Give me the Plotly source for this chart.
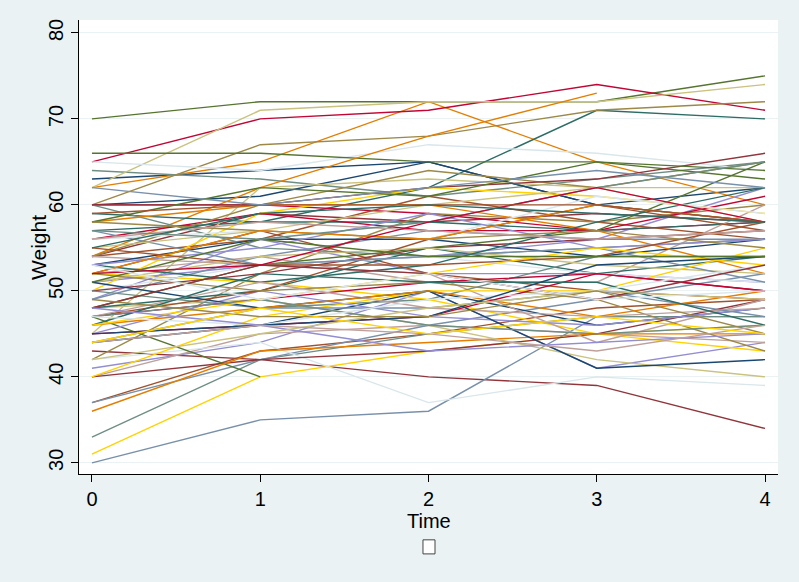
import plotly.graph_objects as go

# Time points
time = [0, 1, 2, 3, 4]

# Stata s2color palette (cycled over subjects)
palette = ["#1a476f", "#90353b", "#55752f", "#e37e00", "#6e8e84",
           "#c10534", "#938dd2", "#cac27e", "#a0522d", "#7890aa",
           "#2d6d66", "#9c8847", "#bfa19c", "#ffd200", "#d9e6eb"]

# Weight of each subject at times 0..4 (None = missing)
weights_a = [
    [63, 64, 65, 60, 62], [43, 42, 40, 39, 34], [70, 72, 72, 72, 75], [62, 65, 72, 65, 60],
    [64, 63, 61, 63, 65], [65, 70, 71, 74, 71], [41, 44, 50, 41, 44], [62, 71, 72, 72, 74],
    [37, 43, 45, 48, 49], [30, 35, 36, 47, 47], [57, 58, 62, 71, 70], [60, 67, 68, 71, 72],
    [40, 45, 46, 45, 44], [31, 40, 43, 45, 46], [65, 64, 67, 66, 64],
]
weights_b = [
    [60, 61, 65, 60, 58], [54, 59, 58, 59, 58], [66, 66, 65, 65, 63], [54, 62, 68, 73, None],
    [33, 42, 45, 47, 47], [60, 60, 59, 57, 58], [51, 53, 54, 56, 62], [45, 62, 63, 62, 62],
    [54, 56, 61, 58, 56], [37, 42, 46, 49, 52], [59, 58, 58, 57, 58], [42, 52, 59, 58, 60],
    [52, 54, 51, 51, 60], [52, 51, 49, 45, 43], [42, 44, 37, 40, 39],
]
weights_c = [
    [44, 46, 50, 46, 48], [40, 42, 43, 45, 49], [47, 40, None, None, None], [36, 43, 44, 45, 45],
    [60, 55, 54, 55, 56], [56, 59, 57, 57, 61], [49, 56, 52, 52, 51], [48, 49, 46, 42, 40],
    [52, 57, 52, 50, 49], [49, 54, 57, 56, 56], [48, 50, 55, 52, 54], [54, 60, 64, 62, 65],
    [54, 53, 52, 44, 49], [50, 59, 62, 61, 59], [50, 53, 54, 52, 51],
]
weights_d = [
    [53, 56, 56, 54, 56], [50, 52, 55, 56, 57], [48, 53, 55, 57, 65], [58, 60, 60, 57, 52],
    [50, 48, 49, 54, 54], [47, 49, 51, 52, 50], [45, 50, 47, 46, 48], [51, 54, 55, 53, 52],
    [47, 50, 56, 60, 57], [57, 53, 54, 55, 51], [53, 51, 53, 58, 62], [52, 50, 51, 49, 43],
    [47, 51, 48, 47, 48], [40, 47, 50, 50, 55], [56, 57, 56, 61, 59],
]
weights_e = [
    [51, 48, 50, 41, 42], [60, 60, 62, 63, 66], [58, 62, 61, 65, 64], [46, 48, 50, 47, 50],
    [47, 49, 46, 45, 46], [45, 46, 47, 52, 50], [53, 55, 59, 55, 56], [55, 57, 60, 62, 58],
    [55, 53, 53, 54, 58], [44, 48, 48, 50, 47], [46, 52, 51, 51, 46], [58, 57, 56, 57, 55],
    [56, 58, 57, 56, 57], [46, 49, 52, 55, 53], [47, 46, 49, 50, 53],
]
weights_f = [
    [45, 46, 47, 53, 54], [48, 53, 52, 49, 53], [51, 56, 54, 54, 54], [52, 57, 56, 60, 58],
    [57, 56, 58, 62, 65], [52, 53, 58, 62, 58], [48, 46, 43, 44, 45], [42, 45, 48, 50, 49],
    [59, 60, 60, 60, 58], [62, 60, 62, 64, 62], [55, 59, 60, 59, 58], [49, 47, 47, 50, 45],
    [44, 46, 45, 43, 46], [44, 48, 45, 47, 45], [53, 49, 52, 49, 50],
]

y_ticks = [30, 40, 50, 60, 70, 80]
x_ticks = [0, 1, 2, 3, 4]

subjects = weights_a + weights_b + weights_c + weights_d + weights_e + weights_f

fig = go.Figure()
for i, w in enumerate(subjects):
    fig.add_trace(go.Scatter(
        x=time, y=w, mode="lines",
        line=dict(color=palette[i % len(palette)], width=1.4),
        showlegend=False, hoverinfo="skip", connectgaps=False,
    ))

font_family = "Liberation Sans, Arial, sans-serif"

fig.update_layout(
    width=799, height=582,
    margin=dict(l=79, r=21, t=20, b=108),
    paper_bgcolor="#EAF2F3",
    plot_bgcolor="#FFFFFF",
    font=dict(family=font_family, size=20, color="#000000"),
    showlegend=False,
)

fig.update_xaxes(
    range=[-0.077, 4.077],
    tickvals=x_ticks, ticktext=[str(t) for t in x_ticks],
    ticks="outside", ticklen=7, tickwidth=1, tickcolor="#000000",
    showline=True, linecolor="#000000", linewidth=1,
    showgrid=False, zeroline=False,
    tickfont=dict(size=20),
)
fig.update_yaxes(
    range=[28.7, 81.5],
    tickvals=y_ticks, ticktext=[str(t) for t in y_ticks],
    tickangle=-90,
    ticks="outside", ticklen=7, tickwidth=1, tickcolor="#000000",
    showline=True, linecolor="#000000", linewidth=1,
    showgrid=True, gridcolor="#EAF2F3", gridwidth=1,
    zeroline=False,
    tickfont=dict(size=20),
)

# axis titles placed as annotations
fig.add_annotation(text="Time", xref="paper", yref="paper", x=0.5007, y=-0.104,
                   showarrow=False, xanchor="center", yanchor="middle",
                   font=dict(size=20))
fig.add_annotation(text="Weight", xref="paper", yref="paper", x=-0.0587, y=0.5,
                   showarrow=False, xanchor="center", yanchor="middle", textangle=-90,
                   font=dict(size=21))

# empty legend key box below the x-axis title
fig.add_shape(
    type="rect", xref="paper", yref="paper",
    x0=0.4921, x1=0.5093, y0=-0.176, y1=-0.145,
    line=dict(color="#444444", width=1), fillcolor="#FFFFFF",
)

fig.write_html("out.html")
